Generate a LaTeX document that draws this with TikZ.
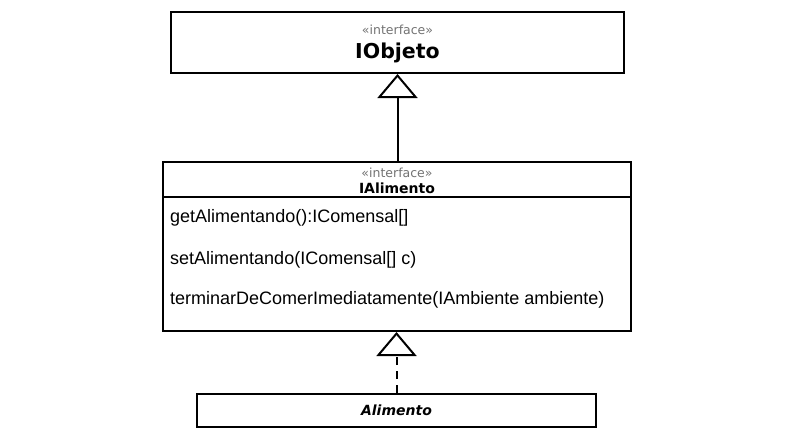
\documentclass[tikz,border=0pt]{standalone}
\usepackage{fontspec}
\setmainfont{Liberation Sans}
\newfontfamily\djv{DejaVu Sans}
\usetikzlibrary{arrows.meta}
\definecolor{stereo}{gray}{0.45}
\tikzset{
  umlbox/.style={draw=black, line width=2pt, fill=white, inner sep=0pt},
  stereotxt/.style={anchor=base, inner sep=0pt, text=stereo, font=\djv\fontsize{12.5}{15}\selectfont},
  methodtxt/.style={anchor=base west, inner sep=0pt, font=\fontsize{18}{22}\selectfont},
  gen/.style={line width=2pt, -{Triangle[open, length=24pt, width=40pt, line width=2pt]}},
}
\begin{document}
\begin{tikzpicture}[x=1pt, y=-1pt]
\useasboundingbox (0,0) rectangle (794,447);
% IObjeto
\node[umlbox, minimum width=453pt, minimum height=61pt] (iobj) at (397.5,42.5) {};
\node[stereotxt] (iobjst) at (397.5,34) {«interface»};
\node[anchor=base, inner sep=0pt, font=\djv\bfseries\fontsize{20.5}{24}\selectfont] (iobjname) at (397.5,58) {IObjeto};
% IAlimento
\node[umlbox, minimum width=468pt, minimum height=169pt] (ialim) at (397,246.5) {};
\coordinate (sepL) at (163,197);
\coordinate (sepR) at (631,197);
\draw[line width=2pt] (sepL) -- (sepR);
\node[stereotxt] (ialimst) at (397,177) {«interface»};
\node[anchor=base, inner sep=0pt, font=\djv\bfseries\fontsize{14}{16}\selectfont] (ialimname) at (397,193) {IAlimento};
\node[methodtxt] (m1) at (170,222) {getAlimentando():IComensal[]};
\node[methodtxt] (m2) at (170,264) {setAlimentando(IComensal[] c)};
\node[methodtxt] (m3) at (170,304) {terminarDeComerImediatamente(IAmbiente ambiente)};
% Alimento
\node[umlbox, minimum width=399pt, minimum height=33pt] (alim) at (396.5,410.5) {};
\node[anchor=base, inner sep=0pt, font=\djv\bfseries\itshape\fontsize{14}{16}\selectfont] (alimname) at (396.5,415) {Alimento};
% connectors
\draw[gen] (ialim.north -| iobj.south) -- (iobj.south);
\draw[gen, dash pattern=on 8pt off 6pt] (alim.north) -- (alim.north |- ialim.south);
\end{tikzpicture}
\end{document}
